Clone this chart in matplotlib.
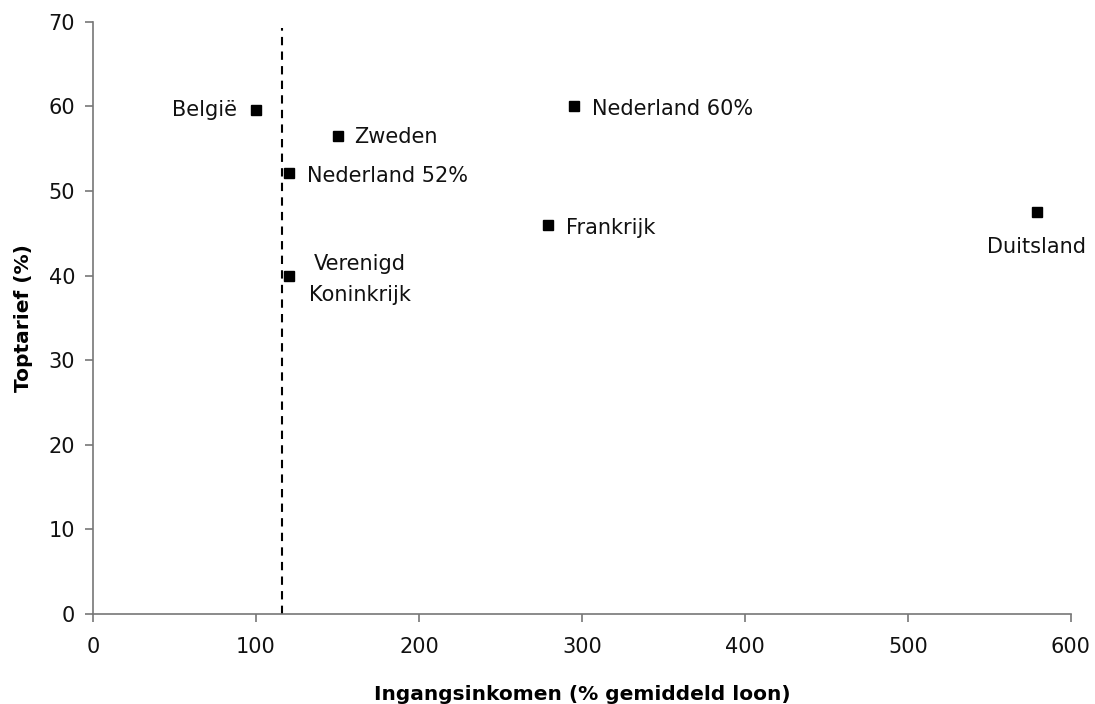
import matplotlib.pyplot as plt

# Gegevens
landen = ["België", "Zweden", "Nederland 52%", "Verenigd\nKoninkrijk",
          "Nederland 60%", "Frankrijk", "Duitsland"]
ingangsinkomen = [100, 150, 120, 120, 295, 279, 579]
toptarief = [59.6, 56.5, 52.1, 40.0, 60.0, 46.0, 47.5]
grens = 116

# label offsets in punten (dx, dy, ha)
offsets = {
    "België":               (-14, 0, "right"),
    "Zweden":               (12, -1, "left"),
    "Nederland 52%":        (13, -2, "left"),
    "Verenigd\nKoninkrijk": (51, -3, "center"),
    "Nederland 60%":        (13, -2, "left"),
    "Frankrijk":            (13, -2, "left"),
    "Duitsland":            (0, -25, "center"),
}

plt.rcParams["font.family"] = ["DejaVu Sans"]

fig, ax = plt.subplots(figsize=(10.95, 7.04), dpi=100)
fig.subplots_adjust(left=0.085, right=0.978, bottom=0.128, top=0.969)

ax.axvline(grens, ymax=0.99, color="black", linestyle=(0, (4, 3)),
           linewidth=1.5, zorder=1)
ax.plot(ingangsinkomen, toptarief, linestyle="none", marker="s",
        markersize=7, color="black", zorder=3)

for naam, x, y in zip(landen, ingangsinkomen, toptarief):
    dx, dy, ha = offsets[naam]
    ax.annotate(naam, (x, y), xytext=(dx, dy), textcoords="offset points",
                ha=ha, va="center", fontsize=15, color="#111111",
                linespacing=1.7)

ax.set_xlim(0, 600)
ax.set_ylim(0, 70)
ax.set_xticks(range(0, 601, 100))
ax.set_yticks(range(0, 71, 10))

for side in ["top", "right"]:
    ax.spines[side].set_visible(False)
for side in ["left", "bottom"]:
    ax.spines[side].set_color("#777777")
    ax.spines[side].set_linewidth(1.2)
ax.tick_params(axis="both", direction="out", length=6, width=1.2,
               color="#777777", labelsize=15, labelcolor="#111111")
ax.tick_params(axis="x", pad=11)
ax.tick_params(axis="y", pad=7)

ax.set_xlabel("Ingangsinkomen (% gemiddeld loon)", fontsize=14.5,
              fontweight="bold", labelpad=20)
ax.set_ylabel("Toptarief (%)", fontsize=14.5, fontweight="bold", labelpad=11)

plt.savefig("out.png", dpi=100)
